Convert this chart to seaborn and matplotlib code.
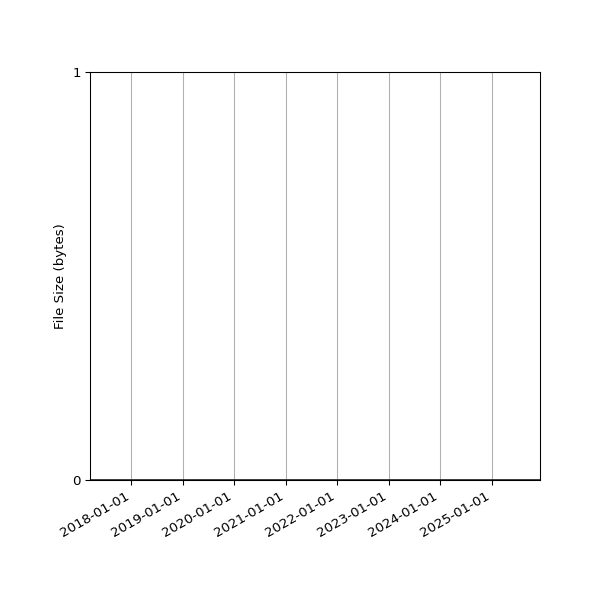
import pandas as pd
import matplotlib
matplotlib.use("Agg")
import matplotlib.pyplot as plt
import matplotlib.dates as mdates
import seaborn as sns

# Data: every point sits at zero bytes
dates = ["2017-03-15", "2018-06-01", "2019-09-01", "2020-12-01",
         "2022-03-01", "2023-06-01", "2024-09-01", "2025-12-10"]
file_sizes = [0, 0, 0, 0, 0, 0, 0, 0]

df = pd.DataFrame({"date": pd.to_datetime(dates), "size": file_sizes})

fig, ax = plt.subplots(figsize=(6.25, 6.25), dpi=96)
sns.lineplot(data=df, x="date", y="size", ax=ax, color="blue", linewidth=2)

ax.set_xlim(df["date"].min(), df["date"].max())
ax.set_ylim(0, 1)
ax.set_yticks([0, 1])
ax.set_xlabel("")
ax.set_ylabel("File Size (bytes)")
ax.xaxis.set_major_locator(mdates.YearLocator())
ax.xaxis.set_major_formatter(mdates.DateFormatter("%Y-%m-%d"))
ax.grid(axis="x")
fig.autofmt_xdate()
fig.subplots_adjust(left=0.15, right=0.9, top=0.88, bottom=0.2)
plt.savefig("out.png")
plt.close()
